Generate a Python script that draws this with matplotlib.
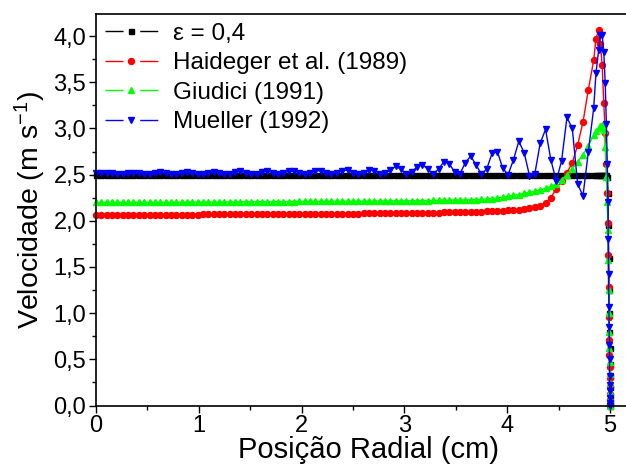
import numpy as np
import matplotlib
matplotlib.use("Agg")
import matplotlib.pyplot as plt
from matplotlib.lines import Line2D
from matplotlib.ticker import MultipleLocator

plt.rcParams["font.family"] = ["Liberation Sans", "DejaVu Sans"]
plt.rcParams["mathtext.fontset"] = "custom"
plt.rcParams["mathtext.rm"] = "Liberation Sans"
plt.rcParams["mathtext.it"] = "Liberation Sans:italic"

# radial grid (cm): uniform core + refined points near the wall
x_core = np.linspace(0, 4.84, 94)
x_wall = [4.862, 4.888, 4.905, 4.922, 4.938, 4.952, 4.963, 4.972, 4.978, 4.982,
          4.985, 4.988, 4.990, 4.992, 4.994, 4.995, 4.996, 4.997, 4.998, 4.999, 5.0]

eps_core = [2.5] * 94
eps_wall = [2.5, 2.5, 2.5, 2.5, 2.5, 2.5, 2.5, 2.48, 2.30, 1.95,
            1.60, 1.25, 1.00, 0.80, 0.62, 0.45, 0.32, 0.20, 0.10, 0.04, 0.0]

haideger_core = [
    2.065, 2.065, 2.065, 2.065, 2.065, 2.065, 2.065, 2.065, 2.065, 2.065,
    2.065, 2.065, 2.065, 2.065, 2.068, 2.068, 2.068, 2.068, 2.068, 2.068,
    2.070, 2.070, 2.070, 2.070, 2.070, 2.070, 2.070, 2.072, 2.072, 2.072,
    2.072, 2.072, 2.072, 2.073, 2.073, 2.073, 2.074, 2.074, 2.074, 2.075,
    2.075, 2.075, 2.076, 2.076, 2.077, 2.077, 2.078, 2.078, 2.079, 2.079,
    2.080, 2.080, 2.081, 2.081, 2.082, 2.082, 2.083, 2.084, 2.084, 2.085,
    2.086, 2.087, 2.088, 2.089, 2.090, 2.091, 2.092, 2.093, 2.094, 2.096,
    2.097, 2.099, 2.100, 2.102, 2.104, 2.106, 2.109, 2.112, 2.116, 2.120,
    2.126, 2.134, 2.146, 2.165, 2.195, 2.25, 2.35, 2.43, 2.52, 2.63,
    2.82, 3.07, 3.42, 3.74]
haideger_wall = [3.97, 4.07, 3.92, 3.69, 3.28, 2.95, 2.62, 2.30, 1.98, 1.63,
                 1.28, 0.96, 0.71, 0.55, 0.42, 0.30, 0.20, 0.12, 0.06, 0.02, 0.0]

giudici_core = [
    2.200, 2.200, 2.200, 2.200, 2.200, 2.200, 2.200, 2.200, 2.200, 2.200,
    2.200, 2.200, 2.201, 2.201, 2.201, 2.202, 2.202, 2.202, 2.203, 2.203,
    2.203, 2.204, 2.204, 2.204, 2.205, 2.205, 2.205, 2.206, 2.206, 2.206,
    2.207, 2.207, 2.207, 2.208, 2.208, 2.208, 2.209, 2.209, 2.210, 2.210,
    2.210, 2.211, 2.211, 2.212, 2.212, 2.212, 2.212, 2.212, 2.212, 2.212,
    2.213, 2.213, 2.214, 2.214, 2.215, 2.215, 2.216, 2.216, 2.217, 2.217,
    2.218, 2.219, 2.220, 2.221, 2.222, 2.223, 2.224, 2.225, 2.226, 2.227,
    2.228, 2.230, 2.232, 2.235, 2.240, 2.248, 2.256, 2.265, 2.275, 2.285,
    2.297, 2.308, 2.320, 2.335, 2.352, 2.372, 2.400, 2.440, 2.500, 2.565,
    2.640, 2.715, 2.815, 2.925]
giudici_wall = [2.97, 3.01, 3.03, 3.04, 2.98, 2.80, 2.48, 2.20, 1.90, 1.58,
                1.25, 1.00, 0.80, 0.62, 0.47, 0.34, 0.24, 0.15, 0.08, 0.03, 0.0]

mueller_core = [
    2.515, 2.52, 2.52, 2.515, 2.51, 2.51, 2.515, 2.52, 2.52, 2.51,
    2.505, 2.515, 2.525, 2.52, 2.51, 2.505, 2.515, 2.525, 2.52, 2.505,
    2.505, 2.52, 2.53, 2.52, 2.505, 2.51, 2.525, 2.535, 2.52, 2.505,
    2.51, 2.53, 2.535, 2.52, 2.505, 2.515, 2.535, 2.54, 2.52, 2.505,
    2.515, 2.54, 2.545, 2.52, 2.505, 2.52, 2.545, 2.55, 2.52, 2.505,
    2.52, 2.555, 2.545, 2.51, 2.52, 2.55, 2.59, 2.56, 2.505, 2.53,
    2.585, 2.61, 2.56, 2.505, 2.56, 2.64, 2.62, 2.53, 2.505, 2.63,
    2.70, 2.61, 2.505, 2.56, 2.73, 2.75, 2.57, 2.50, 2.66, 2.86,
    2.74, 2.49, 2.51, 2.84, 2.99, 2.66, 2.43, 2.65, 3.12, 3.00,
    2.40, 2.27, 2.75, 3.22]
mueller_wall = [3.60, 3.85, 4.01, 4.01, 3.83, 3.49, 3.05, 2.62, 2.20, 1.80,
                1.42, 1.07, 0.85, 0.65, 0.50, 0.32, 0.22, 0.16, 0.08, 0.03, 0.0]

labels = ["ε = 0,4", "Haideger et al. (1989)", "Giudici (1991)", "Mueller (1992)"]
colors = ["black", "#ff0000", "#00ff00", "#0000ff"]
markers = ["s", "o", "^", "v"]
msizes = [3.6, 4.3, 4.8, 4.8]

y_ticks = [0.0, 0.5, 1.0, 1.5, 2.0, 2.5, 3.0, 3.5, 4.0]
y_tick_labels = ["0,0", "0,5", "1,0", "1,5", "2,0", "2,5", "3,0", "3,5", "4,0"]
x_ticks = [0, 1, 2, 3, 4, 5]

x_all = np.concatenate([x_core, x_wall])
series = [eps_core + eps_wall, haideger_core + haideger_wall,
          giudici_core + giudici_wall, mueller_core + mueller_wall]

fig = plt.figure(figsize=(6.26, 4.74), dpi=100)
ax = fig.add_axes([96 / 626, 1 - 405.5 / 474, 545 / 626, 391.5 / 474])

for y, c, m, ms in zip(series, colors, markers, msizes):
    ax.plot(x_all, y, color=c, lw=1.0, marker=m, ms=ms, mec=c, mfc=c,
            clip_on=False)

ax.set_xlim(0, 5.3)
ax.set_ylim(0, 4.24)
ax.set_xticks(x_ticks)
ax.set_xticklabels([str(t) for t in x_ticks])
ax.set_yticks(y_ticks)
ax.set_yticklabels(y_tick_labels)
ax.xaxis.set_minor_locator(MultipleLocator(0.5))
ax.yaxis.set_minor_locator(MultipleLocator(0.25))
ax.tick_params(which="both", direction="out", width=1.0, labelsize=17,
               top=False, right=False)
ax.tick_params(which="major", length=5, pad=2)
ax.tick_params(which="minor", length=3)
for s in ax.spines.values():
    s.set_linewidth(1.2)

ax.set_xlabel("Posição Radial (cm)", fontsize=21, labelpad=-1)
ax.set_ylabel("Velocidade (m s$^{-1}$)", fontsize=20.5, labelpad=4)

# Origin-style legend keys: line - marker - line, with gaps around the marker
handles = [Line2D([], [], color=c, lw=1.0, marker=m, ms=ms, dashes=(13, 12))
           for c, m, ms in zip(colors, markers, msizes)]
ax.legend(handles, labels, loc="upper left", bbox_to_anchor=(0.0165, 0.978),
          frameon=False, fontsize=17.5, handlelength=2.17, handletextpad=0.62,
          labelspacing=0.31, borderpad=0, borderaxespad=0)

fig.savefig("out.png", dpi=100)
